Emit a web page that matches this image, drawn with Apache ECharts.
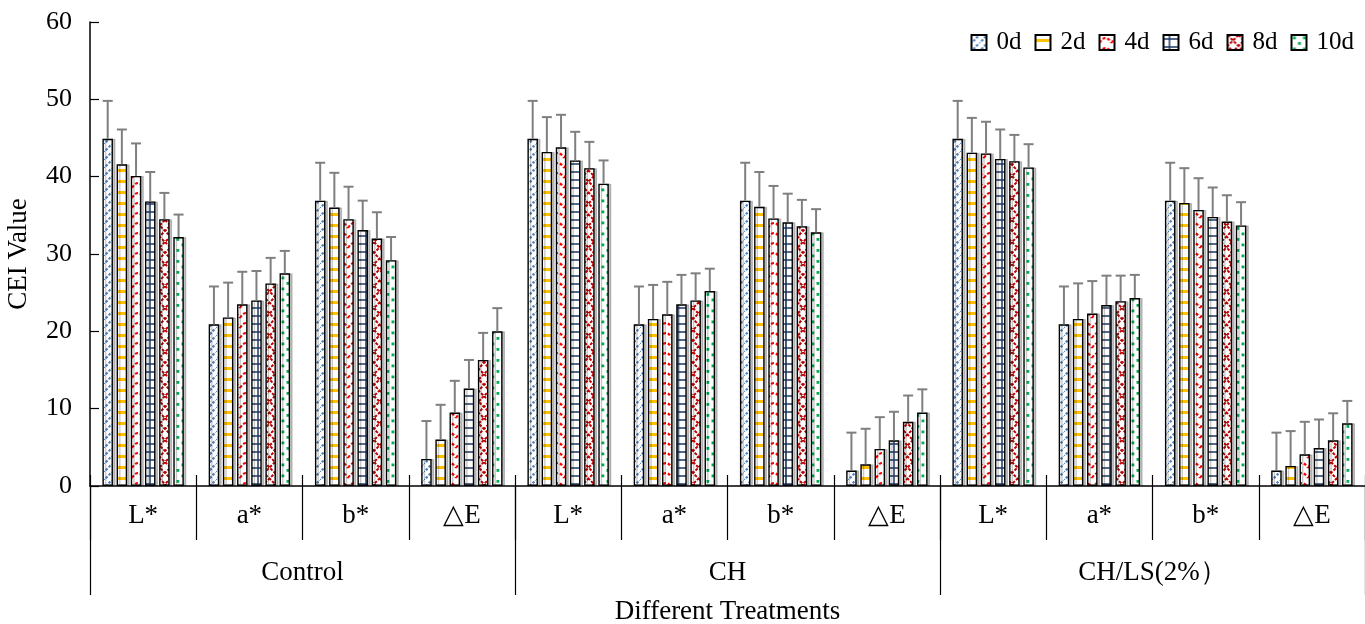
<!DOCTYPE html>
<html>
<head>
    <meta charset="utf-8">
    <title>CEI Value</title>
    <script src="https://cdn.jsdelivr.net/npm/echarts@6/dist/echarts.min.js"></script>
    <style>
        body { margin: 0; background: #fff; }
    </style>
</head>
<body>
    <div id="main" style="width:1365px;height:624px;"></div>
    <script type="text/javascript">

// categories along x (four indexes inside each treatment)
var categories = ['L*', 'a*', 'b*', '△E', 'L*', 'a*', 'b*', '△E', 'L*', 'a*', 'b*', '△E'];
var groups = ['Control', 'CH', 'CH/LS(2%）'];
var days = ['0d', '2d', '4d', '6d', '8d', '10d'];

// bar heights, order: Control L a b E, CH L a b E, CH/LS L a b E
var d0  = [44.9, 20.9, 36.9, 3.5, 44.9, 20.9, 36.9, 2.0, 44.9, 20.9, 36.9, 2.0];
var d2  = [41.6, 21.8, 36.0, 6.0, 43.2, 21.6, 36.1, 2.8, 43.1, 21.6, 36.6, 2.6];
var d4  = [40.1, 23.5, 34.5, 9.5, 43.8, 22.2, 34.6, 4.8, 43.0, 22.3, 35.7, 4.1];
var d6  = [36.8, 24.0, 33.1, 12.6, 42.1, 23.5, 34.1, 5.9, 42.3, 23.4, 34.8, 4.9];
var d8  = [34.5, 26.2, 32.0, 16.3, 41.1, 24.0, 33.6, 8.3, 42.0, 23.9, 34.2, 5.9];
var d10 = [32.2, 27.5, 29.2, 20.0, 39.1, 25.2, 32.8, 9.5, 41.2, 24.3, 33.7, 8.1];

// error bar lengths (upper side only)
var e0  = [4.9, 4.9, 4.9, 4.9, 4.9, 4.9, 4.9, 4.9, 4.9, 4.9, 4.9, 4.9];
var e2  = [4.5, 4.5, 4.5, 4.5, 4.5, 4.4, 4.5, 4.6, 4.5, 4.6, 4.5, 4.5];
var e4  = [4.2, 4.2, 4.2, 4.1, 4.2, 4.2, 4.2, 4.1, 4.1, 4.2, 4.1, 4.2];
var e6  = [3.8, 3.8, 3.8, 3.7, 3.7, 3.8, 3.7, 3.7, 3.8, 3.8, 3.8, 3.7];
var e8  = [3.4, 3.3, 3.4, 3.5, 3.4, 3.5, 3.4, 3.4, 3.4, 3.3, 3.4, 3.5];
var e10 = [2.9, 2.9, 3.0, 3.0, 3.0, 2.9, 3.0, 3.0, 3.0, 3.0, 3.0, 2.9];

var yTicks = [0, 10, 20, 30, 40, 50, 60];

var values = [d0, d2, d4, d6, d8, d10];
var errors = [e0, e2, e4, e6, e8, e10];

var FONT = "'Times New Roman', 'Liberation Serif', serif";
var BAR_W = 10.5;
var BAR_GAP = 0.35;
var PITCH = BAR_W * (1 + BAR_GAP);

// fill patterns, one small tile per day
function tile(w, h, draw) {
    var c = document.createElement('canvas');
    c.width = w; c.height = h;
    var ctx = c.getContext('2d');
    ctx.fillStyle = '#fff';
    ctx.fillRect(0, 0, w, h);
    draw(ctx);
    return { image: c, repeat: 'repeat' };
}

var patterns = [
    tile(8, 8, function (ctx) { // blue dotted diagonals
        ctx.strokeStyle = '#4f81bd';
        ctx.lineWidth = 2.2;
        ctx.setLineDash([2.5, 1.5]);
        ctx.beginPath();
        ctx.moveTo(-1, 9); ctx.lineTo(9, -1);
        ctx.stroke();
    }),
    tile(8, 11, function (ctx) { // orange stripes
        ctx.fillStyle = '#ffc000';
        ctx.fillRect(0, 4, 8, 3);
    }),
    tile(12, 10, function (ctx) { // red dashed waves
        ctx.strokeStyle = '#ff0000';
        ctx.lineWidth = 2.2;
        ctx.setLineDash([3, 2]);
        ctx.beginPath();
        ctx.moveTo(0, 8);
        ctx.quadraticCurveTo(6, -2, 12, 8);
        ctx.stroke();
    }),
    tile(12, 8, function (ctx) { // navy grid
        ctx.strokeStyle = '#1f3864';
        ctx.lineWidth = 1.5;
        ctx.beginPath();
        ctx.moveTo(0, 4); ctx.lineTo(12, 4);
        ctx.moveTo(6, 0); ctx.lineTo(6, 8);
        ctx.stroke();
    }),
    tile(11, 22, function (ctx) { // dark red zigzag crosses
        ctx.strokeStyle = '#c00000';
        ctx.lineWidth = 2;
        ctx.setLineDash([3, 1.5]);
        ctx.beginPath();
        ctx.moveTo(0, 0); ctx.lineTo(11, 11); ctx.lineTo(0, 22);
        ctx.moveTo(11, 0); ctx.lineTo(0, 11); ctx.lineTo(11, 22);
        ctx.stroke();
    }),
    tile(10, 11, function (ctx) { // green dots
        ctx.fillStyle = '#00b050';
        ctx.fillRect(1.5, 1.5, 2.8, 2.8);
        ctx.fillRect(6.5, 7, 2.8, 2.8);
    })
];

var myChart = echarts.init(document.getElementById('main'));

var series = days.map(function (d, i) {
    return {
        name: d,
        type: 'bar',
        barWidth: BAR_W,
        barGap: (BAR_GAP * 100) + '%',
        data: values[i],
        itemStyle: {
            color: patterns[i],
            borderColor: '#000',
            borderWidth: 1.4,
            shadowColor: 'rgba(0,0,0,0.22)',
            shadowOffsetX: 2.5,
            shadowBlur: 0
        },
        emphasis: { disabled: true }
    };
});

// error bars, [category index, day index, value, error]
var errData = [];
days.forEach(function (d, i) {
    categories.forEach(function (c, k) {
        errData.push([k, i, values[i][k], errors[i][k]]);
    });
});

series.push({
    name: 'errors',
    type: 'custom',
    z: 5,
    encode: { x: 0, y: 2 },
    data: errData,
    renderItem: function (params, api) {
        var k = api.value(0), i = api.value(1);
        var v = api.value(2), e = api.value(3);
        var base = api.coord([k, v]);
        var top = api.coord([k, v + e]);
        var x = base[0] + (i - 2.5) * PITCH;
        var st = { stroke: '#7f7f7f', lineWidth: 2 };
        return {
            type: 'group',
            children: [
                { type: 'line', shape: { x1: x, y1: base[1], x2: x, y2: top[1] }, style: st },
                { type: 'line', shape: { x1: x - 5, y1: top[1], x2: x + 5, y2: top[1] }, style: st }
            ]
        };
    }
});

option = {
    animation: false,
    textStyle: { fontFamily: FONT, color: '#000' },
    grid: { left: 90, right: 0, top: 22, bottom: 138, outerBoundsMode: 'none' },
    legend: {
        data: days,
        right: 6,
        top: 25,
        icon: 'rect',
        itemWidth: 15,
        itemHeight: 15,
        itemGap: 13,
        textStyle: { fontFamily: FONT, fontSize: 25, color: '#000', padding: [0, 0, 0, 5] }
    },
    xAxis: [{
        type: 'category',
        data: categories,
        position: 'bottom',
        axisLine: { lineStyle: { color: '#000', width: 1.5 } },
        axisTick: { show: true, length: 54, interval: 0, lineStyle: { color: '#000', width: 1.2 } },
        axisLabel: { interval: 0, margin: 16, fontSize: 27, color: '#000', fontFamily: FONT }
    }, {
        type: 'category',
        data: categories,
        position: 'bottom',
        axisLine: { show: false },
        axisTick: { show: true, inside: true, length: 11, interval: 0, lineStyle: { color: '#000', width: 1.2 } },
        axisLabel: { show: false }
    }, {
        type: 'category',
        data: groups,
        position: 'bottom',
        axisLine: { show: false },
        axisTick: { show: true, length: 109, interval: 0, lineStyle: { color: '#000', width: 1.2 } },
        axisLabel: { interval: 0, margin: 73, fontSize: 27, color: '#000', fontFamily: FONT },
        name: 'Different Treatments',
        nameLocation: 'middle',
        nameGap: 112,
        nameTextStyle: { fontSize: 27, color: '#000', fontFamily: FONT }
    }],
    yAxis: {
        type: 'value',
        min: yTicks[0],
        max: yTicks[yTicks.length - 1],
        interval: 10,
        name: 'CEI Value',
        nameLocation: 'middle',
        nameGap: 58,
        nameTextStyle: { fontSize: 27, color: '#000', fontFamily: FONT },
        axisLine: { show: true, lineStyle: { color: '#000', width: 1.5 } },
        axisTick: { show: true, inside: true, length: 9, lineStyle: { color: '#000', width: 1.2 } },
        splitLine: { show: false },
        axisLabel: { margin: 18, fontSize: 26, color: '#000', fontFamily: FONT }
    },
    series: series
};

myChart.setOption(option);

    </script>
</body>
</html>
